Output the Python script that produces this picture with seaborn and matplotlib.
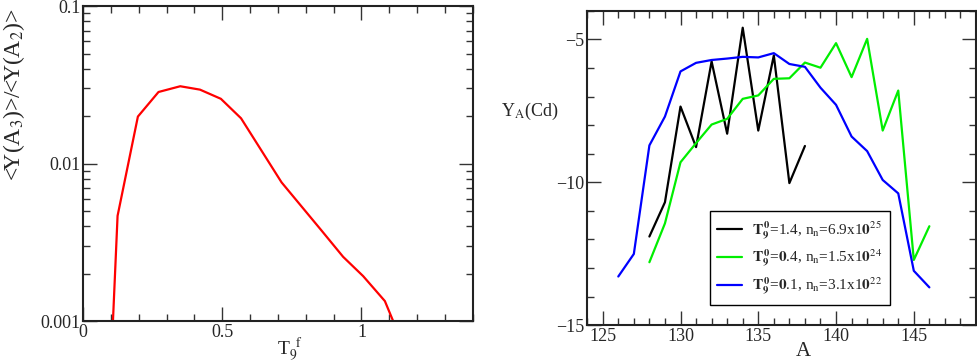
import numpy as np
import pandas as pd
import matplotlib
matplotlib.use('Agg')
import matplotlib.pyplot as plt
import seaborn as sns
from matplotlib.ticker import MultipleLocator, FixedLocator, FixedFormatter

# ── data ──────────────────────────────────────────────────────────────────────
t9f = [0.105, 0.124, 0.197, 0.271, 0.349, 0.42, 0.495, 0.5675, 0.713, 0.857,
       0.934, 1.006, 1.084, 1.15]
ratio = [0.0008, 0.00466, 0.0199, 0.0285, 0.031, 0.0295, 0.0258, 0.0194,
         0.0076, 0.00375, 0.00256, 0.00193, 0.00134, 0.0007]

A_black = list(range(128, 139))
Y_black = [-11.9, -10.7, -7.35, -8.77, -5.77, -8.3, -4.59, -8.19, -5.56, -10.03, -8.73]

A_green = list(range(128, 147))
Y_green = [-12.8, -11.44, -9.3, -8.63, -7.98, -7.78, -7.08, -6.96, -6.38, -6.36,
           -5.81, -5.99, -5.13, -6.32, -4.98, -8.19, -6.79, -12.72, -11.54]

A_blue = list(range(126, 147))
Y_blue = [-13.3, -12.51, -8.71, -7.70, -6.12, -5.82, -5.72, -5.67, -5.61, -5.63,
          -5.48, -5.86, -5.96, -6.69, -7.29, -8.40, -8.91, -9.92, -10.39, -13.10, -13.68]

labels = [r'$\mathbf{T_9^{\,0}}$=1.4, n$_\mathrm{n}$=6.9x1$\mathbf{0}^{25}$',
          r'$\mathbf{T_9^{\,0}}$=$\mathbf{0}$.4, n$_\mathrm{n}$=1.5x1$\mathbf{0}^{24}$',
          r'$\mathbf{T_9^{\,0}}$=$\mathbf{0}$.1, n$_\mathrm{n}$=3.1x1$\mathbf{0}^{22}$']
colors = ['black', '#00ee00', '#0000ff']

left_df = pd.DataFrame({'T9f': t9f, 'ratio': ratio})
right_df = pd.concat([
    pd.DataFrame({'A': A_black, 'Y': Y_black, 'run': labels[0]}),
    pd.DataFrame({'A': A_green, 'Y': Y_green, 'run': labels[1]}),
    pd.DataFrame({'A': A_blue, 'Y': Y_blue, 'run': labels[2]}),
], ignore_index=True)

# ── style ─────────────────────────────────────────────────────────────────────
sns.set_style('ticks')
plt.rcParams['font.family'] = ['Liberation Serif', 'DejaVu Serif']
plt.rcParams['mathtext.fontset'] = 'stix'
plt.rcParams['axes.linewidth'] = 1.5

fig = plt.figure(figsize=(9.77, 3.62), dpi=100)
ax1 = fig.add_axes([0.085, 0.113, 0.399, 0.870])
ax2 = fig.add_axes([0.601, 0.102, 0.398, 0.868])

# ── left panel ────────────────────────────────────────────────────────────────
sns.lineplot(data=left_df, x='T9f', y='ratio', ax=ax1, color='red', lw=1.6,
             sort=False)
ax1.set_yscale('log')
ax1.set_xlim(0, 1.4)
ax1.set_ylim(0.001, 0.1)
ax1.xaxis.set_major_locator(FixedLocator([0, 0.5, 1.0]))
ax1.xaxis.set_major_formatter(FixedFormatter(['0', '0.5', '1']))
ax1.xaxis.set_minor_locator(MultipleLocator(0.1))
ax1.yaxis.set_major_locator(FixedLocator([0.001, 0.01, 0.1]))
ax1.yaxis.set_major_formatter(FixedFormatter(['0.001', '0.01', '0.1']))
ax1.set_xlabel(r'T$_9^{\ \ \mathrm{f}}$', fontsize=14)
ax1.set_ylabel(r'<Y(A$_3$)>/<Y(A$_2$)>', fontsize=17)
ax1.xaxis.set_label_coords(0.53, -0.045)
ax1.yaxis.set_label_coords(-0.145, 0.72)

# ── right panel ───────────────────────────────────────────────────────────────
sns.lineplot(data=right_df, x='A', y='Y', hue='run', palette=colors, ax=ax2,
             lw=1.6, sort=False)
ax2.set_xlim(124, 149)
ax2.set_ylim(-15, -4)
ax2.xaxis.set_major_locator(MultipleLocator(5))
ax2.xaxis.set_minor_locator(MultipleLocator(1))
ax2.yaxis.set_major_locator(MultipleLocator(5))
ax2.yaxis.set_minor_locator(MultipleLocator(1))
ax2.set_xlabel('A', fontsize=15)
ax2.xaxis.set_label_coords(0.555, -0.055)
ax2.set_ylabel(r'Y$_\mathrm{A}$(Cd)', fontsize=13, rotation=0)
ax2.yaxis.set_label_coords(-0.147, 0.645)

leg = ax2.legend(loc='lower left', bbox_to_anchor=(0.295, 0.04), fontsize=11,
                 frameon=True, fancybox=False, edgecolor='black', framealpha=1,
                 handlelength=1.6, handletextpad=0.7, borderpad=0.5,
                 labelspacing=0.45)
leg.get_frame().set_linewidth(1.0)

for ax in (ax1, ax2):
    ax.tick_params(which='both', direction='in', top=True, right=True,
                   labelsize=13, width=1.0, color='#333333')
    ax.tick_params(which='major', length=10, pad=2)
    ax.tick_params(which='minor', length=5)
    for s in ax.spines.values():
        s.set_visible(True)
        s.set_color('#222222')

fig.savefig('out.png', dpi=100)
